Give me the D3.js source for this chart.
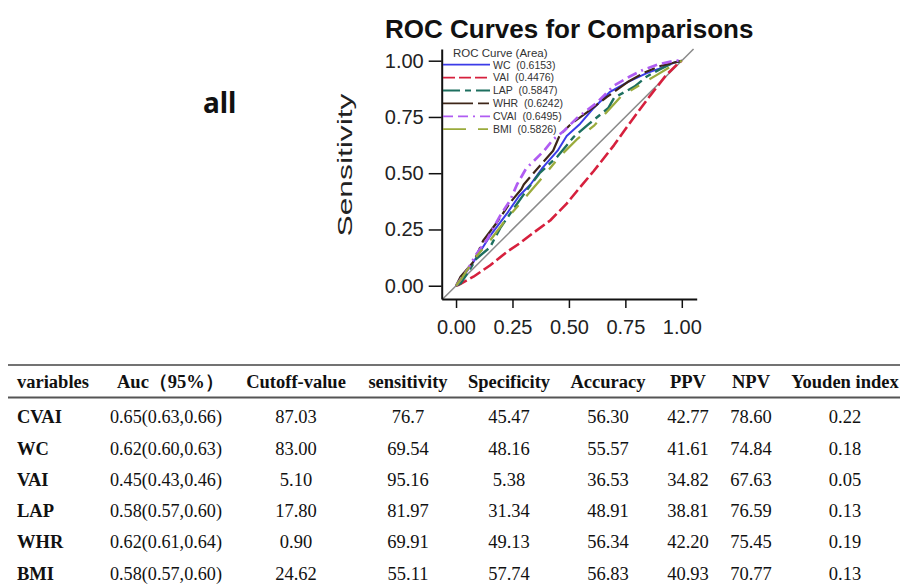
<!DOCTYPE html>
<html>
<head>
    <meta charset="UTF-8">
    <title>ROC Curves for Comparisons</title>
    <style>
        body { margin: 0; background-color: #fff; }
        svg { display: block; }
    </style>
</head>
<body>
    <svg></svg>
    <script src="https://d3js.org/d3.v7.min.js"></script>
    <script>
        // ROC curve data (1 - specificity, sensitivity)
        let rocNames = ["WC", "VAI", "LAP", "WHR", "CVAI", "BMI"];
        let rocAreas = ["0.6153", "0.4476", "0.5847", "0.6242", "0.6495", "0.5826"];

        let wcFpr = [0, 0.02, 0.08, 0.15, 0.225, 0.28, 0.33, 0.38, 0.45, 0.49, 0.55, 0.61, 0.68, 0.76, 0.845, 0.90, 0.97, 1];
        let wcTpr = [0, 0.025, 0.11, 0.22, 0.32, 0.40, 0.45, 0.52, 0.60, 0.665, 0.72, 0.79, 0.86, 0.905, 0.945, 0.965, 0.993, 1];

        let vaiFpr = [0, 0.01, 0.077, 0.15, 0.225, 0.284, 0.342, 0.417, 0.49, 0.535, 0.61, 0.70, 0.76, 0.86, 0.93, 0.985, 1];
        let vaiTpr = [0, 0.003, 0.04, 0.09, 0.15, 0.19, 0.235, 0.29, 0.365, 0.42, 0.51, 0.625, 0.71, 0.845, 0.935, 0.989, 1];

        let lapFpr = [0, 0.02, 0.06, 0.09, 0.15, 0.195, 0.25, 0.31, 0.37, 0.45, 0.52, 0.59, 0.675, 0.70, 0.79, 0.845, 0.90, 0.96, 1];
        let lapTpr = [0, 0.01, 0.07, 0.12, 0.17, 0.255, 0.335, 0.42, 0.50, 0.575, 0.66, 0.72, 0.79, 0.835, 0.885, 0.93, 0.96, 0.99, 1];

        let whrFpr = [0, 0.02, 0.08, 0.12, 0.18, 0.24, 0.29, 0.30, 0.36, 0.43, 0.46, 0.51, 0.58, 0.67, 0.76, 0.83, 0.90, 1];
        let whrTpr = [0, 0.04, 0.11, 0.20, 0.28, 0.37, 0.43, 0.45, 0.52, 0.60, 0.67, 0.72, 0.77, 0.84, 0.905, 0.945, 0.975, 1];

        let cvaiFpr = [0, 0.05, 0.09, 0.14, 0.195, 0.24, 0.27, 0.31, 0.39, 0.43, 0.48, 0.535, 0.62, 0.70, 0.77, 0.83, 0.90, 0.97, 1];
        let cvaiTpr = [0, 0.07, 0.14, 0.21, 0.31, 0.38, 0.45, 0.52, 0.60, 0.65, 0.69, 0.745, 0.81, 0.89, 0.93, 0.96, 0.985, 1, 1];

        let bmiFpr = [0, 0.03, 0.09, 0.15, 0.21, 0.27, 0.33, 0.39, 0.46, 0.535, 0.61, 0.68, 0.73, 0.81, 0.89, 0.96, 1];
        let bmiTpr = [0, 0.04, 0.13, 0.20, 0.28, 0.35, 0.42, 0.49, 0.575, 0.65, 0.71, 0.785, 0.84, 0.89, 0.937, 0.98, 1];

        let axisTicks = [0, 0.25, 0.5, 0.75, 1];

        // table data
        let tableHeaders = ["variables", "Auc（95%）", "Cutoff-value", "sensitivity", "Specificity", "Accuracy", "PPV", "NPV", "Youden index"];
        let tableVars = ["CVAI", "WC", "VAI", "LAP", "WHR", "BMI"];
        let aucCI = ["0.65(0.63,0.66)", "0.62(0.60,0.63)", "0.45(0.43,0.46)", "0.58(0.57,0.60)", "0.62(0.61,0.64)", "0.58(0.57,0.60)"];
        let cutoffs = ["87.03", "83.00", "5.10", "17.80", "0.90", "24.62"];
        let sensitivity = ["76.7", "69.54", "95.16", "81.97", "69.91", "55.11"];
        let specificity = ["45.47", "48.16", "5.38", "31.34", "49.13", "57.74"];
        let accuracy = ["56.30", "55.57", "36.53", "48.91", "56.34", "56.83"];
        let ppv = ["42.77", "41.61", "34.82", "38.81", "42.20", "40.93"];
        let npv = ["78.60", "74.84", "67.63", "76.59", "75.45", "70.77"];
        let youden = ["0.22", "0.18", "0.05", "0.13", "0.19", "0.13"];

        let width = 900, height = 584;

        let svg = d3.select("svg")
            .attr("width", width)
            .attr("height", height);

        // curve styles
        let styles = [
            { color: "#3b3be8", dash: null, w: 2 },
            { color: "#d6203d", dash: "12,4", w: 2.6 },
            { color: "#1d6f5f", dash: "17,5,6,5", w: 2.4 },
            { color: "#3e2618", dash: "30,5,11,5", w: 2.2 },
            { color: "#b05cf2", dash: "10,5,10,5,2,5", w: 2.7 },
            { color: "#9aab3c", dash: "23,12,10,12", w: 2.3 }
        ];

        let curves = [
            [wcFpr, wcTpr], [vaiFpr, vaiTpr], [lapFpr, lapTpr],
            [whrFpr, whrTpr], [cvaiFpr, cvaiTpr], [bmiFpr, bmiTpr]
        ].map(c => c[0].map((f, i) => ({ x: f, y: c[1][i] })));

        // scales
        let x = d3.scaleLinear().domain([-0.0635, 1.066]).range([441.7, 696.7]);
        let y = d3.scaleLinear().domain([-0.059, 1.052]).range([299, 49]);

        // "all" label
        svg.append("text")
            .attr("x", 203).attr("y", 113)
            .style("font-family", "'Noto Sans', sans-serif")
            .style("font-weight", "bold")
            .style("font-size", "28px")
            .attr("fill", "#111")
            .text("all");

        // title
        svg.append("text")
            .attr("x", 385).attr("y", 38)
            .style("font-family", "'Liberation Sans', Arial, sans-serif")
            .style("font-weight", "bold")
            .style("font-size", "26px")
            .attr("fill", "#111")
            .text("ROC Curves for Comparisons");

        // diagonal reference line
        svg.append("line")
            .attr("x1", x(-0.06)).attr("y1", y(-0.06))
            .attr("x2", x(1.052)).attr("y2", y(1.052))
            .attr("stroke", "#8a8a8a")
            .attr("stroke-width", 1.5);

        // curves
        let line = d3.line().x(d => x(d.x)).y(d => y(d.y));

        svg.append("g")
            .selectAll("path")
            .data(curves)
            .enter()
            .append("path")
            .attr("d", line)
            .attr("fill", "none")
            .attr("stroke", (d, i) => styles[i].color)
            .attr("stroke-width", (d, i) => styles[i].w)
            .attr("stroke-dasharray", (d, i) => styles[i].dash)
            .attr("stroke-linejoin", "round");

        // axes
        let yAxis = d3.axisLeft(y)
            .tickValues(axisTicks)
            .tickFormat(d3.format(".2f"))
            .tickSize(13)
            .tickSizeOuter(0)
            .tickPadding(5);

        let xAxis = d3.axisBottom(x)
            .tickValues(axisTicks)
            .tickFormat(d3.format(".2f"))
            .tickSize(9)
            .tickSizeOuter(0)
            .tickPadding(12);

        let gy = svg.append("g")
            .attr("transform", "translate(441.7,0)")
            .call(yAxis);

        let gx = svg.append("g")
            .attr("transform", "translate(0,299)")
            .call(xAxis);

        [gx, gy].forEach(g => {
            g.select(".domain").attr("stroke", "#111").attr("stroke-width", 2);
            g.selectAll(".tick line").attr("stroke", "#111").attr("stroke-width", 1.5);
            g.selectAll(".tick text")
                .attr("fill", "#222")
                .style("font-family", "'Liberation Sans', Arial, sans-serif")
                .style("font-size", "20px");
        });

        // y axis title
        svg.append("text")
            .attr("transform", "translate(351.5,165) rotate(-90)")
            .attr("text-anchor", "middle")
            .attr("textLength", 143)
            .attr("lengthAdjust", "spacingAndGlyphs")
            .style("font-family", "'Liberation Sans', Arial, sans-serif")
            .style("font-size", "20px")
            .attr("fill", "#222")
            .text("Sensitivity");

        // legend
        let legend = svg.append("g");
        legend.append("text")
            .attr("x", 453).attr("y", 56.7)
            .style("font-family", "'Liberation Sans', Arial, sans-serif")
            .style("font-size", "11.5px")
            .attr("fill", "#333")
            .text("ROC Curve (Area)");

        let entry = legend.selectAll("g.entry")
            .data(rocNames)
            .enter()
            .append("g")
            .attr("class", "entry")
            .attr("transform", (d, i) => "translate(0," + (64.7 + i * 12.9) + ")");

        entry.append("line")
            .attr("x1", 443).attr("x2", 490)
            .attr("stroke", (d, i) => styles[i].color)
            .attr("stroke-width", (d, i) => Math.min(styles[i].w, 1.8))
            .attr("stroke-dasharray", (d, i) => styles[i].dash);

        entry.append("text")
            .attr("x", 493).attr("y", 3.8)
            .style("font-family", "'Liberation Sans', Arial, sans-serif")
            .style("font-size", "10.5px")
            .style("white-space", "pre")
            .attr("fill", "#333")
            .text((d, i) => d + "  (" + rocAreas[i] + ")");

        // table
        let colX = [17, 117, 296, 408, 509, 608, 688, 751, 845];
        let columns = [tableVars, aucCI, cutoffs, sensitivity, specificity, accuracy, ppv, npv, youden];
        let rowY = d3.scalePoint().domain(tableVars).range([416.7, 573.3]);

        let serif = "'Liberation Serif', 'Times New Roman', serif";

        svg.append("line")
            .attr("x1", 8).attr("x2", 900)
            .attr("y1", 365).attr("y2", 365)
            .attr("stroke", "#444").attr("stroke-width", 1.5);

        svg.append("line")
            .attr("x1", 8).attr("x2", 900)
            .attr("y1", 397.5).attr("y2", 397.5)
            .attr("stroke", "#555").attr("stroke-width", 2.2);

        svg.append("g")
            .selectAll("text")
            .data(tableHeaders)
            .enter()
            .append("text")
            .attr("x", (d, i) => colX[i])
            .attr("y", 388)
            .attr("text-anchor", (d, i) => i < 2 ? "start" : "middle")
            .style("font-family", serif)
            .style("font-weight", "bold")
            .style("font-size", "18.5px")
            .attr("fill", "#111")
            .text(d => d);

        columns.forEach((col, ci) => {
            let t = svg.append("g")
                .selectAll("text")
                .data(col)
                .enter()
                .append("text")
                .attr("x", ci == 1 ? 166 : colX[ci])
                .attr("y", (d, i) => rowY(tableVars[i]) + 6.5)
                .attr("text-anchor", ci == 0 ? "start" : "middle")
                .style("font-family", serif)
                .style("font-weight", ci == 0 ? "bold" : "normal")
                .style("font-size", "18.5px")
                .attr("fill", "#111")
                .text(d => d);
            if (ci == 1) {
                t.attr("textLength", 112).attr("lengthAdjust", "spacingAndGlyphs");
            }
        });
    </script>
</body>
</html>
